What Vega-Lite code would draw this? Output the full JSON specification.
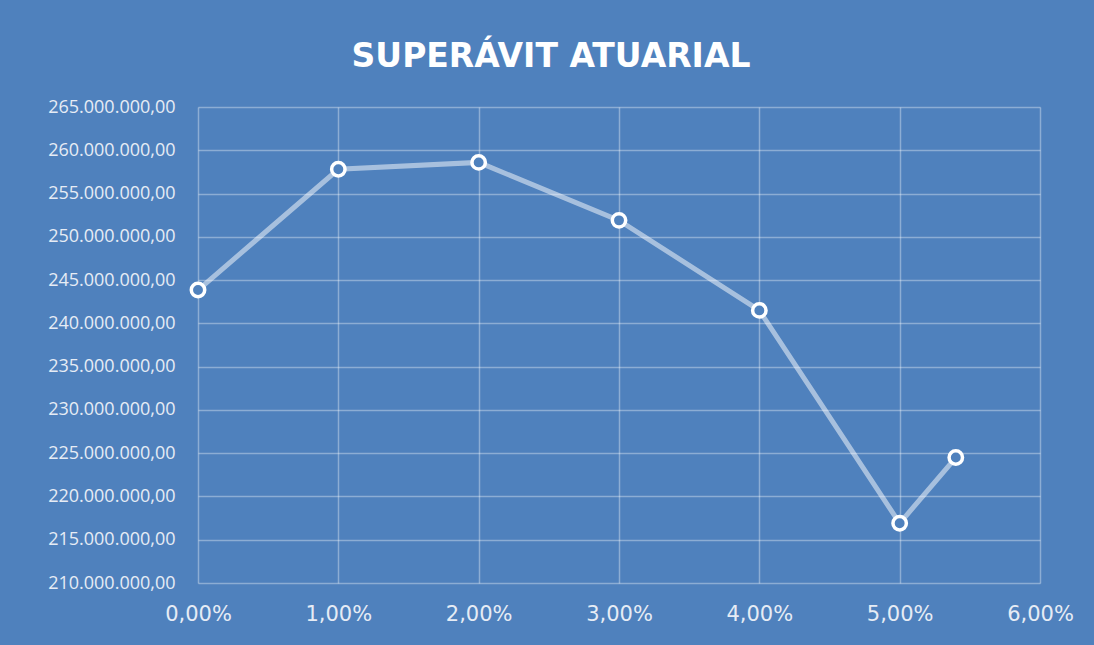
{
  "$schema": "https://vega.github.io/schema/vega-lite/v6.json",
  "autosize": {"type": "none"},
  "width": 842,
  "height": 476,
  "padding": {"left": 198, "top": 107, "right": 54, "bottom": 62},
  "background": "#4F81BD",
  "config": {
    "locale": {"number": {"decimal": ",", "thousands": ".", "grouping": [3], "currency": ["R$", ""]}},
    "view": {"stroke": null},
    "font": "Open Sans"
  },
  "title": {
    "text": "SUPERÁVIT ATUARIAL",
    "anchor": "middle",
    "frame": "group",
    "font": "DejaVu Sans",
    "fontSize": 33,
    "fontWeight": "bold",
    "color": "#FFFFFF",
    "baseline": "middle",
    "dx": -68,
    "offset": 8
  },
  "data": {
    "values": [
      {"taxa": 0.0, "superavit": 243850000},
      {"taxa": 0.01, "superavit": 257800000},
      {"taxa": 0.02, "superavit": 258600000},
      {"taxa": 0.03, "superavit": 251900000},
      {"taxa": 0.04, "superavit": 241500000},
      {"taxa": 0.05, "superavit": 216900000},
      {"taxa": 0.054, "superavit": 224500000}
    ]
  },
  "encoding": {
    "x": {
      "field": "taxa",
      "type": "quantitative",
      "scale": {"domain": [0, 0.06], "nice": false, "zero": false},
      "axis": {
        "title": null,
        "values": [0, 0.01, 0.02, 0.03, 0.04, 0.05, 0.06],
        "format": ".2%",
        "domain": false,
        "ticks": false,
        "grid": true,
        "gridColor": "#FFFFFF",
        "gridOpacity": 0.35,
        "gridWidth": 1.5,
        "labelColor": "#E6ECF5",
        "labelFont": "DejaVu Sans",
        "labelFontSize": 21,
        "labelPadding": 20,
        "labelFlush": false
      }
    },
    "y": {
      "field": "superavit",
      "type": "quantitative",
      "scale": {"domain": [210000000, 265000000], "nice": false, "zero": false},
      "axis": {
        "title": null,
        "values": [210000000, 215000000, 220000000, 225000000, 230000000, 235000000, 240000000, 245000000, 250000000, 255000000, 260000000, 265000000],
        "format": ",.2f",
        "domain": false,
        "ticks": false,
        "grid": true,
        "gridColor": "#FFFFFF",
        "gridOpacity": 0.35,
        "gridWidth": 1.5,
        "labelColor": "#E6ECF5",
        "labelFont": "Open Sans",
        "labelFontSize": 18,
        "labelPadding": 23
      }
    }
  },
  "layer": [
    {"mark": {"type": "line", "color": "#FFFFFF", "opacity": 0.5, "strokeWidth": 5}},
    {"mark": {"type": "point", "shape": "circle", "filled": true, "fill": "#4F81BD", "stroke": "#FFFFFF", "strokeWidth": 3.5, "size": 180, "opacity": 1}}
  ]
}
